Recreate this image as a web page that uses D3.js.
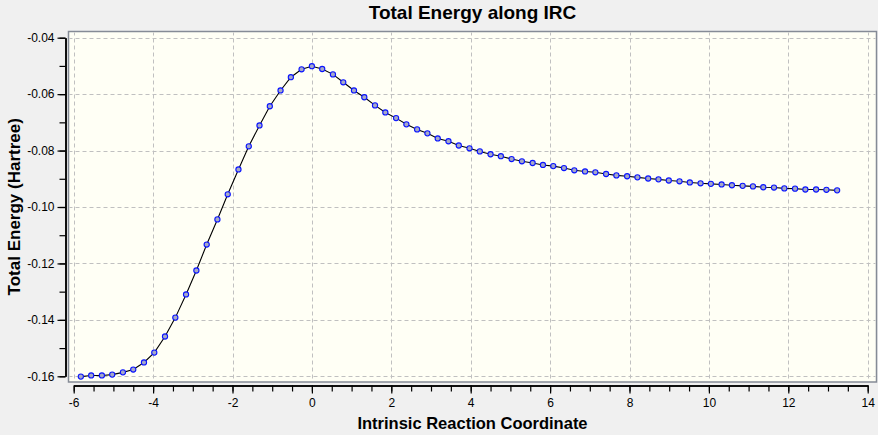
<!DOCTYPE html>
<html>
<head>
<meta charset="utf-8">
<script src="https://cdn.jsdelivr.net/npm/d3@7"></script>
<style>
  html, body { margin: 0; padding: 0; background: #f0f0f0; }
  svg { display: block; font-family: "Liberation Sans", Arial, sans-serif; }
</style>
</head>
<body>
<svg id="chart" width="878" height="435"></svg>
<script>
// ---- data ----
const titleText = "Total Energy along IRC";
const xLabel = "Intrinsic Reaction Coordinate";
const yLabel = "Total Energy (Hartree)";

const ircCoord = [
  -5.82, -5.56, -5.29, -5.03, -4.76, -4.50, -4.23, -3.97, -3.70, -3.44,
  -3.17, -2.91, -2.65, -2.38, -2.12, -1.85, -1.59, -1.32, -1.06, -0.79,
  -0.53, -0.26, 0.00, 0.26, 0.53, 0.79, 1.06, 1.32, 1.59, 1.85,
  2.12, 2.38, 2.65, 2.91, 3.17, 3.44, 3.70, 3.97, 4.23, 4.50,
  4.76, 5.03, 5.29, 5.56, 5.82, 6.08, 6.35, 6.61, 6.88, 7.14,
  7.41, 7.67, 7.94, 8.20, 8.47, 8.73, 8.99, 9.26, 9.52, 9.79,
  10.05, 10.32, 10.58, 10.85, 11.11, 11.37, 11.64, 11.90, 12.17, 12.43,
  12.70, 12.96, 13.23
];
const totalEnergy = [
  -0.1601, -0.1597, -0.1597, -0.1594, -0.1586, -0.1576, -0.1551, -0.1516, -0.1459, -0.1392,
  -0.1310, -0.1225, -0.1133, -0.1044, -0.0955, -0.0867, -0.0785, -0.0711, -0.0643, -0.0587,
  -0.0540, -0.0512, -0.0501, -0.0511, -0.0530, -0.0558, -0.0587, -0.0611, -0.0640, -0.0665,
  -0.0685, -0.0707, -0.0725, -0.0739, -0.0757, -0.0767, -0.0782, -0.0792, -0.0803, -0.0813,
  -0.0820, -0.0830, -0.0838, -0.0844, -0.0851, -0.0855, -0.0862, -0.0870, -0.0874, -0.0877,
  -0.0883, -0.0888, -0.0891, -0.0895, -0.0899, -0.0902, -0.0906, -0.0909, -0.0913, -0.0916,
  -0.0918, -0.0920, -0.0923, -0.0925, -0.0927, -0.0930, -0.0931, -0.0934, -0.0935, -0.0938,
  -0.0938, -0.0939, -0.0941
];
const xTicks = [-6, -4, -2, 0, 2, 4, 6, 8, 10, 12, 14];
const xMinorTicks = [-6, -5.5, -5, -4.5, -4, -3.5, -3, -2.5, -2, -1.5, -1, -0.5, 0, 0.5, 1, 1.5, 2, 2.5, 3, 3.5, 4, 4.5, 5, 5.5, 6, 6.5, 7, 7.5, 8, 8.5, 9, 9.5, 10, 10.5, 11, 11.5, 12, 12.5, 13, 13.5, 14];
const yTicks = [-0.04, -0.06, -0.08, -0.10, -0.12, -0.14, -0.16];
const yMinorTicks = [-0.04, -0.05, -0.06, -0.07, -0.08, -0.09, -0.10, -0.11, -0.12, -0.13, -0.14, -0.15, -0.16];

// ---- layout ----
const frame = { left: 68.5, top: 31.5, right: 876.5, bottom: 382 };
const svg = d3.select("#chart");

const x = d3.scaleLinear().domain([-6, 14]).range([73.7, 867.7]);
const y = d3.scaleLinear().domain([-0.04, -0.16]).range([37.7, 376.3]);

// plot frame
svg.append("rect")
  .attr("x", frame.left).attr("y", frame.top)
  .attr("width", frame.right - frame.left).attr("height", frame.bottom - frame.top)
  .attr("fill", "#fffff5").attr("stroke", "#858b96").attr("stroke-width", 1.5);

svg.append("clipPath").attr("id", "clip").append("rect")
  .attr("x", frame.left + 1).attr("y", frame.top + 1)
  .attr("width", frame.right - frame.left - 2).attr("height", frame.bottom - frame.top - 2);

const plot = svg.append("g").attr("clip-path", "url(#clip)");

// grid
plot.append("g").selectAll("line").data(xTicks).join("line")
  .attr("x1", d => Math.round(x(d)) + 0.5).attr("x2", d => Math.round(x(d)) + 0.5)
  .attr("y1", frame.top).attr("y2", frame.bottom)
  .attr("stroke", "#c0c0c0").attr("stroke-dasharray", "4,3");
plot.append("g").selectAll("line").data(yTicks).join("line")
  .attr("y1", d => Math.round(y(d)) + 0.5).attr("y2", d => Math.round(y(d)) + 0.5)
  .attr("x1", frame.left).attr("x2", frame.right)
  .attr("stroke", "#c0c0c0").attr("stroke-dasharray", "4,3");

// line + markers
const pts = ircCoord.map((c, i) => [c, totalEnergy[i]]);
plot.append("path")
  .datum(pts)
  .attr("fill", "none").attr("stroke", "#000").attr("stroke-width", 1.1)
  .attr("d", d3.line().x(d => x(d[0])).y(d => y(d[1])));
plot.append("g").selectAll("circle").data(pts).join("circle")
  .attr("cx", d => x(d[0])).attr("cy", d => y(d[1])).attr("r", 2.6)
  .attr("fill", "#a6a9c6").attr("stroke", "#0a14ff").attr("stroke-width", 1.1);

// axes
const fmtX = d => String(d);
const fmtY = d => d.toFixed(2);

const xAxisG = svg.append("g").attr("transform", "translate(0,385.5)");
xAxisG.call(d3.axisBottom(x).tickValues(xMinorTicks).tickSize(6).tickSizeOuter(0).tickFormat(""));
xAxisG.append("g").call(d3.axisBottom(x).tickValues(xTicks).tickSize(8).tickSizeOuter(0).tickPadding(5).tickFormat(fmtX));

const yAxisG = svg.append("g").attr("transform", "translate(65.5,0)");
yAxisG.call(d3.axisLeft(y).tickValues(yMinorTicks).tickSize(6).tickSizeOuter(0).tickFormat(""));
yAxisG.append("g").call(d3.axisLeft(y).tickValues(yTicks).tickSize(8).tickSizeOuter(0).tickPadding(3).tickFormat(fmtY));

svg.selectAll(".tick text").attr("font-size", 12).attr("fill", "#000")
  .attr("font-family", "'Liberation Sans', Arial, sans-serif");
svg.selectAll(".domain, .tick line").attr("stroke", "#000").attr("stroke-width", 1.2);
svg.selectAll(".domain").attr("stroke-width", 1.5);

// titles
svg.append("text").attr("x", (frame.left + frame.right) / 2).attr("y", 19)
  .attr("text-anchor", "middle").attr("font-size", 19).attr("font-weight", "bold")
  .text(titleText);
svg.append("text").attr("x", (frame.left + frame.right) / 2).attr("y", 429)
  .attr("text-anchor", "middle").attr("font-size", 16.5).attr("font-weight", "bold")
  .text(xLabel);
svg.append("text").attr("transform", `translate(20,${(frame.top + frame.bottom) / 2}) rotate(-90)`)
  .attr("text-anchor", "middle").attr("font-size", 17).attr("font-weight", "bold")
  .text(yLabel);
</script>
</body>
</html>
